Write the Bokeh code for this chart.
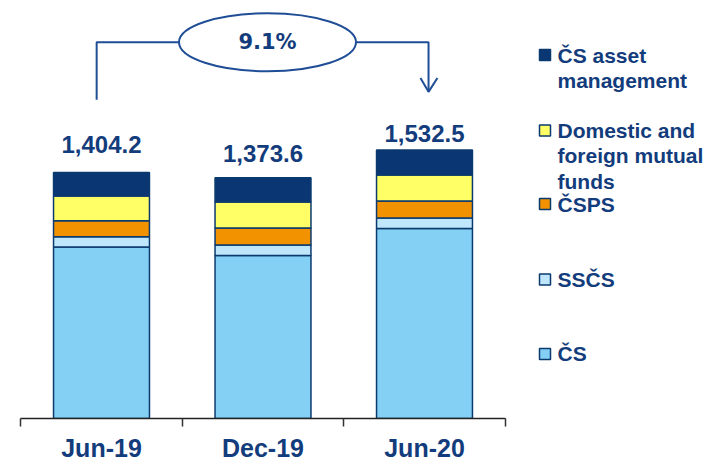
from bokeh.plotting import figure
from bokeh.models import Range1d, FixedTicker, Label, LinearAxis, ColumnDataSource
from bokeh.embed import file_html
from bokeh.resources import INLINE
from bokeh.core.properties import value

# ---------------- data ----------------
periods = ["Jun-19", "Dec-19", "Jun-20"]
cs = [979.2, 930.6, 1084.5]
sscs = [58, 60, 60]
csps = [91, 96, 96]
funds = [142, 149, 149]
asset_mgmt = [134, 138, 143]
totals = [1404.2, 1373.6, 1532.5]
growth_label = "9.1%"
series_keys = ["cs", "sscs", "csps", "funds", "am"]
series_names = ["ČS", "SSČS", "ČSPS", "Domestic and\nforeign mutual\nfunds", "ČS asset\nmanagement"]
total_name = "Total"

# ---------------- style ----------------
colors = ["#84d0f4", "#bfe6fa", "#f39200", "#ffff66", "#0a3673"]
outline = "#0b3a6e"
txt = "#133c7c"
conn = "#1f4e96"
FONT = "Liberation Sans"

W, H = 709, 464
PX_X = 161.5      # px per category
X0 = 101          # px of first category centre
FRAME_H = 421
Y_END = 2385
SCALE = FRAME_H / Y_END


def X(px):
    return (px - X0) / PX_X


def Y(py):
    return (FRAME_H - py) / SCALE


p = figure(width=W, height=H,
           x_range=Range1d(-X0 / PX_X, (W - X0) / PX_X),
           y_range=Range1d(0, Y_END),
           output_backend="svg", toolbar_location=None,
           min_border_left=0, min_border_right=0, min_border_top=0,
           min_border_bottom=H - FRAME_H,
           x_axis_location=None, y_axis_location=None)
p.outline_line_color = None
p.grid.visible = False
p.xgrid.visible = False
p.ygrid.visible = False
p.background_fill_color = "white"
p.border_fill_color = "white"

n = len(periods)
ax = LinearAxis(ticker=FixedTicker(ticks=list(range(n)),
                                   minor_ticks=[i - 0.5 for i in range(n + 1)]),
                bounds=(-0.5, n - 0.5))
ax.major_label_overrides = {i: s for i, s in enumerate(periods)}
ax.major_tick_line_color = None
ax.major_tick_in = 0
ax.major_tick_out = 8
ax.minor_tick_in = 0
ax.minor_tick_out = 8
ax.minor_tick_line_color = "#333333"
ax.minor_tick_line_width = 1.5
ax.axis_line_color = "#222222"
ax.axis_line_width = 1.5
ax.major_label_standoff = 7
ax.major_label_text_font = FONT
ax.major_label_text_font_size = "25px"
ax.major_label_text_font_style = "bold"
ax.major_label_text_color = txt
p.add_layout(ax, "below")

src = ColumnDataSource(dict(x=list(range(n)), cs=cs, sscs=sscs, csps=csps,
                            funds=funds, am=asset_mgmt))
p.vbar_stack(series_keys, x="x", width=0.594, fill_color=colors,
             line_color=outline, line_width=1.5, source=src)

# total labels
label_offsets = [162, 136, 92]
p.text(x=list(range(n)), y=[t + o for t, o in zip(totals, label_offsets)],
       text=[f"{t:,.1f}" for t in totals],
       text_align="center", text_baseline="alphabetic",
       text_font=value(FONT), text_font_size="24px", text_font_style="bold",
       text_color=txt)

# growth connector
yc = Y(42)
p.multi_line(xs=[[-0.03, -0.03, X(179)], [X(355), 2.025, 2.025],
                 [2.025 - 0.05, 2.025, 2.025 + 0.055]],
             ys=[[Y(100), yc, yc], [yc, yc, Y(92)], [Y(78), Y(92), Y(78)]],
             line_color=conn, line_width=2)
p.ellipse(x=[X(267)], y=[yc], width=[177], height=[58],
          width_units="screen", height_units="screen",
          fill_color="white", line_color=conn, line_width=2)
p.text(x=[X(267)], y=[yc], text=[growth_label], text_align="center",
       text_baseline="middle", text_font=value("DejaVu Sans"),
       text_font_size="21px", text_font_style="bold", text_color=txt)

# legend (top entry first)
leg_y = [356, 281, 205, 131, 55]
p.scatter(x=[X(544.5)] * len(leg_y), y=[Y(v) for v in leg_y], marker="square",
          size=11, fill_color=colors, line_color=outline, line_width=1.5)
lx, ly, lt = [], [], []
for name, yy in zip(series_names, leg_y):
    for i, line in enumerate(name.split("\n")):
        lx.append(X(557))
        ly.append(Y(yy + i * 25.5))
        lt.append(line)
p.text(x=lx, y=ly, text=lt, text_align="left", text_baseline="middle",
       text_font=value(FONT), text_font_size="21px", text_font_style="bold",
       text_color=txt)
p.add_layout(Label(x=X(557), y=Y(432), text=total_name, text_align="left",
                   text_baseline="middle", text_font=FONT,
                   text_font_size="21px", text_font_style="bold",
                   text_color=txt))

open("out.html", "w").write(file_html(p, INLINE))
